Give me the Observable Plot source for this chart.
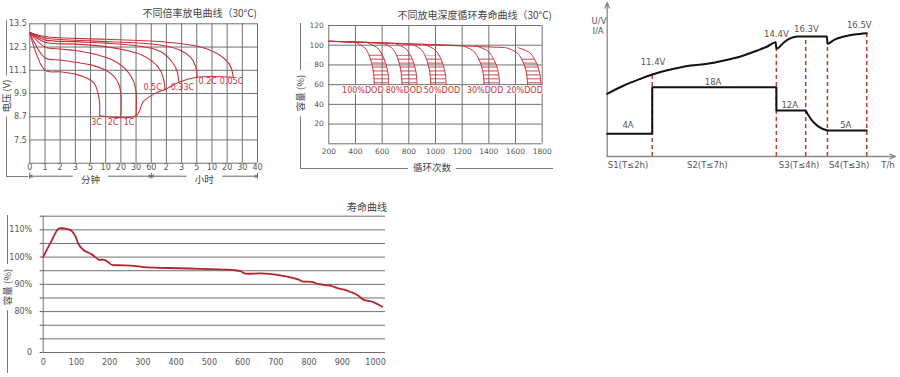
<!DOCTYPE html>
<html><head><meta charset="utf-8">
<script src="https://cdn.jsdelivr.net/npm/d3@7"></script>
<script src="https://cdn.jsdelivr.net/npm/@observablehq/plot@0.6"></script>
<style>
html,body{margin:0;padding:0;background:#fff;}
#root{position:relative;width:900px;height:377px;overflow:hidden;background:#fff;font-family:"DejaVu Sans",sans-serif;}
.t{position:absolute;white-space:nowrap;line-height:1;}
.br{position:absolute;border-color:#7a7a7a;border-style:solid;border-width:0;}
</style></head><body>
<svg width="0" height="0" style="position:absolute"><defs>
<pattern id="dodHatch" patternUnits="userSpaceOnUse" width="10" height="3.94" y="2.5"><rect x="0" y="1" width="10" height="0.9" fill="#c8323a"/></pattern>
</defs></svg>
<div id="root"></div>
<script>
// ---------- Chart 1: 不同倍率放电曲线 ----------
const rateXTickLabels = ["0","1","2","3","5","10","20","30","60","2","3","5","10","20","30","40"];
const rateYTicks = [7.5, 8.7, 9.9, 11.1, 12.3, 13.5];
const rateNames = ["3C","2C","1C","0.5C","0.33C","0.2C","0.05C"];
const rate3C = [[0,13.05],[1,11.1],[2,11.02],[3,10.9],[4,10.6],[4.3,10.35],[4.5,9.9],[4.6,9.4],[4.6,8.75]];
const rate2C = [[0,13.05],[1,11.75],[2,11.63],[3,11.51],[4,11.38],[5,11.1],[5.5,10.82],[5.85,10.4],[6,9.9],[6,8.75]];
const rate1C = [[0,13.05],[1,12.3],[2,12.2],[3,12.12],[4,11.98],[5,11.77],[5.75,11.5],[6.4,11.08],[6.85,10.5],[7,10.0],[7,8.75]];
const rate05C = [[0,13.05],[1,12.55],[3,12.45],[5,12.32],[6.4,12.12],[7.3,11.92],[8.1,11.55],[8.6,11.1],[8.85,10.5],[8.9,10.1]];
const rate033C = [[0,13.05],[1,12.67],[3,12.58],[5,12.5],[6.9,12.38],[8.2,12.2],[8.85,11.95],[9.4,11.5],[9.7,11.05],[9.82,10.48]];
const rate02C = [[0,13.05],[1,12.77],[4,12.62],[8,12.46],[9.05,12.34],[9.95,12.12],[10.6,11.77],[10.9,11.34],[11.03,10.74]];
const rate005C = [[0,13.05],[1,12.84],[5,12.7],[9,12.55],[11.25,12.3],[12.55,11.86],[13.2,11.34],[13.4,10.74]];
const rateEndV = [[4.6,8.75],[7,8.75],[7.5,9.5],[8.4,9.96],[8.9,10.1],[9.82,10.48],[11.03,10.74],[13.4,10.74]];
const rateLabelX = [4.4, 5.49, 6.54, 8.09, 10.05, 11.72, 13.29];
const rateLabelY = [8.38, 8.38, 8.38, 10.19, 10.19, 10.51, 10.51];
const rateSpanNames = ["分钟", "小时"];
const rateSpanFrom = [0, 8];
const rateSpanTo = [8, 15];

// ---------- Chart 2: 不同放电深度循环寿命曲线 ----------
const dodNames = ["100%DOD","80%DOD","50%DOD","30%DOD","20%DOD"];
const dodMain = [
  [[200,104],[300,103.6],[401,103]],
  [[200,104],[400,103.3],[609,102]],
  [[200,104],[500,102.8],[824,101]],
  [[200,104],[600,102.3],[1000,100.6],[1204,99.5]],
  [[200,104],[600,102.3],[1000,100.2],[1300,98.8],[1530,97.5]]
];
const dodLevels = [
  [103, 97.2, 90.4, 81.5, 71.1, 60],
  [102, 96.4, 89.7, 81, 70.9, 60],
  [101, 95.5, 89, 80.5, 70.6, 60],
  [99.5, 94.2, 87.9, 79.8, 70.2, 60],
  [97.5, 92.5, 86.5, 78.8, 69.7, 60]
];
const dodLeft = [
  [401, 471, 500, 522, 536, 541],
  [609, 679, 708, 730, 744, 749],
  [824, 894, 923, 945, 959, 964],
  [1204, 1284, 1317, 1343, 1359, 1364],
  [1530, 1610, 1643, 1669, 1685, 1690]
];
const dodRight = [
  [480, 565, 600, 627, 644, 650],
  [692, 777, 812, 839, 856, 862],
  [910, 995, 1030, 1057, 1074, 1080],
  [1300, 1390, 1427, 1456, 1474, 1480],
  [1620, 1705, 1740, 1767, 1784, 1790]
];
const dodLabelX = [455, 763, 1048, 1372, 1668];
const dodLabelY = 54;
const dodXTicks = [200,400,600,800,1000,1200,1400,1600,1800];
const dodYTicks = [0,20,40,60,80,100,120];

// ---------- Chart 3: charging profile (schematic units) ----------
const chgVoltage = [[0,6.27],[1.67,7.1],[3.33,7.77],[4.5,8.2],[6.67,8.77],[8.33,9.1],[10,9.27],[11.67,9.6],[13.33,10],[15,10.6],[16,11],[16.83,11.43],[16.9,10.77],[17.67,11.43],[18.33,11.83],[19,12],[21.95,12],[22,11.27],[22.67,11.67],[23.67,12],[24.67,12.2],[25.93,12.33]];
const chgCurrent = [[0,2.27],[4.5,2.27],[4.5,6.93],[16.9,6.93],[16.9,4.6],[19.83,4.6],[20,4.27],[20.33,3.77],[20.67,3.37],[21,3.07],[21.5,2.77],[22,2.6],[25.93,2.6]];
const chgMarkT = [4.5, 16.9, 19.83, 22, 25.93];
const chgMarkTop = [8.2, 10.77, 12, 11.27, 12.33];
const chgVLabels = ["11.4V","14.4V","16.3V","16.5V"];
const chgVLabelT = [4.58, 16.9, 19.9, 25.18];
const chgVLabelV = [9.43, 12.27, 12.77, 13.1];
const chgILabels = ["4A","18A","12A","5A"];
const chgILabelT = [2.08, 10.58, 18.23, 23.83];
const chgILabelV = [3.1, 7.43, 5.1, 3.1];
const chgStages = ["S1(T≤2h)","S2(T≤7h)","S3(T≤4h)","S4(T≤3h)"];
const chgStageT = [2.08, 10.0, 19.17, 24.17];
const chgTMax = 28.8, chgVMax = 15.4;

// ---------- Chart 4: 寿命曲线 ----------
const lifeCycles = [0,22,47,62,85,97,107,122,147,167,183,193,206,223,273,303,373,473,574,594,606,654,704,734,769,779,809,829,864,890,905,925,945,965,985,1000,1020];
const lifeCapacity = [100.1,105.2,110.5,110.5,109.7,107.6,104.6,102.5,100.9,99.1,99,98.4,97.2,97,96.8,96.3,96.0,95.7,95.2,94.8,94.0,94.0,93.5,92.8,91.7,91.1,90.9,90.1,89.5,88.4,88.1,87.2,86.1,84.3,83.8,83.1,81.8];
const lifeXTicks = [0,100,200,300,400,500,600,700,800,900,1000];
const lifeYTicks = [65,70,75,80,85,90,95,100,105,110,115];
const lifeYLabels = {65:"0", 80:"80%", 90:"90%", 100:"100%", 110:"110%"};

// ---------- helpers ----------
const RED = "#c8323a";
const GRID = "#707070";
const TXT = "#555";
const CJK = '"Noto Sans CJK SC", sans-serif';
const LAT = '"DejaVu Sans", sans-serif';
const root = document.getElementById("root");

function mount(svg, left, top) {
  svg.style.position = "absolute";
  svg.style.left = left + "px";
  svg.style.top = top + "px";
  root.appendChild(svg);
}
function txt(s, x, y, o = {}) {
  const d = document.createElement("div");
  d.className = "t";
  d.textContent = s;
  d.style.left = x + "px";
  d.style.top = y + "px";
  d.style.fontSize = (o.size || 10) + "px";
  d.style.color = o.color || "#444";
  d.style.fontFamily = o.font || CJK;
  const ax = o.anchor === "end" ? "-100%" : o.anchor === "start" ? "0" : "-50%";
  d.style.transform = `translate(${ax},-50%)` + (o.rotate ? ` rotate(${o.rotate}deg)` : "");
  if (o.bg) { d.style.background = "#fff"; d.style.padding = o.pad || "0 3px"; }
  root.appendChild(d);
}
function bracket(x, y, w, h, sides) {
  const d = document.createElement("div");
  d.className = "br";
  Object.assign(d.style, {left: x + "px", top: y + "px", width: w + "px", height: h + "px"});
  if (sides.includes("l")) d.style.borderLeftWidth = "1px";
  if (sides.includes("b")) d.style.borderBottomWidth = "1px";
  root.appendChild(d);
}
const baseStyle = (size) => ({fontFamily: LAT, fontSize: size + "px", color: TXT, background: "transparent", overflow: "visible"});
const plain = d => String(d);

// ---------- Chart 1 ----------
{
  const curves = [rate3C, rate2C, rate1C, rate05C, rate033C, rate02C, rate005C];
  const labels = rateNames.map((n, i) => ({n, x: rateLabelX[i], y: rateLabelY[i]}));
  const spans = rateSpanNames.map((n, i) => ({n, a: rateSpanFrom[i], b: rateSpanTo[i], c: (rateSpanFrom[i] + rateSpanTo[i]) / 2}));
  const gap = 1.2; // half-width (in x units) of the gap left for the span text
  const arrows = spans.flatMap(s => [{x1: s.c - gap, x2: s.a}, {x1: s.c + gap, x2: s.b}]);
  const yMin = 6.3;
  const svg = Plot.plot({
    width: 270, height: 190,
    marginLeft: 29.3, marginRight: 13, marginTop: 23.3, marginBottom: 27.3,
    x: {domain: [0, 15], ticks: d3.range(16), tickFormat: i => rateXTickLabels[i], tickSize: 0, tickPadding: 1, label: null},
    y: {domain: [yMin, 13.5], ticks: rateYTicks, tickFormat: d => d.toFixed(1), tickSize: 0, tickPadding: 3, label: null},
    style: baseStyle(8),
    marks: [
      Plot.ruleX(d3.range(16), {stroke: GRID, strokeWidth: 1}),
      Plot.ruleY([yMin, ...rateYTicks], {stroke: GRID, strokeWidth: 1}),
      ...curves.map(c => Plot.line(c, {x: d => d[0], y: d => d[1], stroke: RED, strokeWidth: 1.1, curve: "catmull-rom"})),
      Plot.line(rateEndV, {x: d => d[0], y: d => d[1], stroke: RED, strokeWidth: 1.1, curve: "catmull-rom"}),
      Plot.text(labels, {x: "x", y: "y", text: "n", fill: RED, fontSize: 8, fontFamily: LAT}),
      Plot.arrow(arrows, {x1: "x1", x2: "x2", y1: () => yMin, y2: () => yMin, dy: 13, stroke: "#666", strokeWidth: 1, headLength: 4, headAngle: 50}),
      Plot.ruleX([0, 8, 15], {x: d => d, y1: () => yMin, y2: () => yMin, dy: 13, insetTop: -3, insetBottom: -3, stroke: "#666"}),
      Plot.text(spans, {x: "c", y: () => yMin, text: "n", dy: 16.5, fill: "#444", fontFamily: CJK, fontSize: 9.5})
    ]
  });
  mount(svg, 0, 0);
  txt("不同倍率放电曲线（30°C)", 257, 13, {anchor: "end", size: 10});
  bracket(6, 20, 21, 156, "lb");
  txt("电压 (V)", 6.5, 96, {rotate: -90, size: 9.5, bg: true, pad: "0 4px"});
}

// ---------- Chart 2 ----------
{
  const lines = dodMain.map((m, i) => [...m, ...dodLevels[i].map((y, k) => [dodLeft[i][k], y])]);
  const rights = dodRight.map((r, i) => r.map((x, k) => [x, dodLevels[i][k]]));
  const hatches = dodLevels.map((lv, i) => lv.map((y, k) => ({y, l: dodLeft[i][k], r: dodRight[i][k]})).slice(2));
  const labels = dodNames.map((n, i) => ({n, x: dodLabelX[i], y: dodLabelY}));
  const svg = Plot.plot({
    width: 280, height: 180,
    marginLeft: 38.3, marginRight: 28.3, marginTop: 25, marginBottom: 36.7,
    x: {domain: [200, 1800], ticks: dodXTicks, tickFormat: plain, tickSize: 0, tickPadding: 5, label: null},
    y: {domain: [0, 120], ticks: dodYTicks.filter(d => d > 0), tickFormat: plain, tickSize: 0, tickPadding: 5, label: null},
    style: baseStyle(7.5),
    marks: [
      Plot.ruleX(dodXTicks, {stroke: GRID, strokeWidth: 1}),
      Plot.ruleY(dodYTicks, {stroke: GRID, strokeWidth: 1}),
      ...hatches.map(h => Plot.areaX(h, {y: "y", x1: "l", x2: "r", fill: "url(#dodHatch)", curve: "catmull-rom"})),
      ...lines.map(l => Plot.line(l, {x: d => d[0], y: d => d[1], stroke: RED, strokeWidth: 1, curve: "catmull-rom"})),
      ...rights.map(l => Plot.line(l, {x: d => d[0], y: d => d[1], stroke: RED, strokeWidth: 1, curve: "catmull-rom"})),
      Plot.text(labels, {x: "x", y: "y", text: "n", fill: RED, fontSize: 8, fontFamily: LAT, stroke: "white", strokeWidth: 2})
    ]
  });
  mount(svg, 290, 0);
  txt("不同放电深度循环寿命曲线（30°C)", 552, 15, {anchor: "end", size: 10});
  bracket(300, 23, 252, 145, "lb");
  txt("容量 (%)", 300.5, 93, {rotate: -90, size: 9.5, bg: true, pad: "0 5px"});
  txt("循环次数", 432, 168, {size: 9.5, bg: true, pad: "0 5px"});
}

// ---------- Chart 3 ----------
{
  const marks = chgMarkT.map((t, i) => ({t, v: chgMarkTop[i]}));
  const vl = chgVLabels.map((s, i) => ({s, t: chgVLabelT[i], v: chgVLabelV[i]}));
  const il = chgILabels.map((s, i) => ({s, t: chgILabelT[i], v: chgILabelV[i]}));
  const st = chgStages.map((s, i) => ({s, t: chgStageT[i]}));
  const svg = Plot.plot({
    width: 310, height: 190,
    marginLeft: 16.7, marginRight: 5, marginTop: 2, marginBottom: 34,
    x: {domain: [0, chgTMax], axis: null},
    y: {domain: [0, chgVMax], axis: null},
    style: baseStyle(8.5),
    marks: [
      Plot.ruleX(marks, {x: "t", y1: 0, y2: "v", stroke: "#c0392b", strokeWidth: 1.5, strokeDasharray: "4,3"}),
      Plot.arrow([{x1: 0, y1: 0, x2: chgTMax, y2: 0}, {x1: 0, y1: 0, x2: 0, y2: chgVMax}], {x1: "x1", y1: "y1", x2: "x2", y2: "y2", stroke: "#888", strokeWidth: 1.3, headLength: 7, headAngle: 45}),
      Plot.line(chgVoltage, {x: d => d[0], y: d => d[1], stroke: "#111", strokeWidth: 2, curve: "monotone-x"}),
      Plot.line(chgCurrent, {x: d => d[0], y: d => d[1], stroke: "#111", strokeWidth: 2}),
      Plot.text(vl, {x: "t", y: "v", text: "s", fill: TXT, fontSize: 8.5}),
      Plot.text(il, {x: "t", y: "v", text: "s", fill: TXT, fontSize: 8.5}),
      Plot.text(st, {x: "t", y: () => 0, dy: 9, text: "s", fill: TXT, fontSize: 8.5})
    ]
  });
  mount(svg, 590, 0);
  txt("U/V", 599, 21, {size: 8.5, color: TXT, font: LAT});
  txt("I/A", 598, 31, {size: 8.5, color: TXT, font: LAT});
  txt("T/h", 888, 165, {size: 8.5, color: TXT, font: LAT});
}

// ---------- Chart 4 ----------
{
  const data = lifeCycles.map((c, i) => ({c, v: lifeCapacity[i]}));
  const svg = Plot.plot({
    width: 400, height: 182,
    marginLeft: 42.7, marginRight: 15, marginTop: 20.7, marginBottom: 25,
    x: {domain: [0, 1030], ticks: lifeXTicks, tickFormat: plain, tickSize: 0, tickPadding: 7, label: null},
    y: {domain: [65, 115], ticks: lifeYTicks, tickFormat: d => lifeYLabels[d] || "", tickSize: 3, tickPadding: 8, label: null},
    style: baseStyle(8),
    marks: [
      Plot.ruleY(lifeYTicks, {stroke: GRID, strokeWidth: 1}),
      Plot.ruleX([0], {stroke: GRID, strokeWidth: 1}),
      Plot.line(data, {x: "c", y: "v", stroke: "#b3242b", strokeWidth: 1.8, curve: "catmull-rom"})
    ]
  });
  mount(svg, 0, 195);
  txt("寿命曲线", 387, 207, {anchor: "end", size: 10});
  bracket(7, 215, 1, 158, "l");
  txt("容量 (%)", 7.5, 287, {rotate: -90, size: 9.5, bg: true, pad: "0 5px"});
}
</script>
</body></html>
